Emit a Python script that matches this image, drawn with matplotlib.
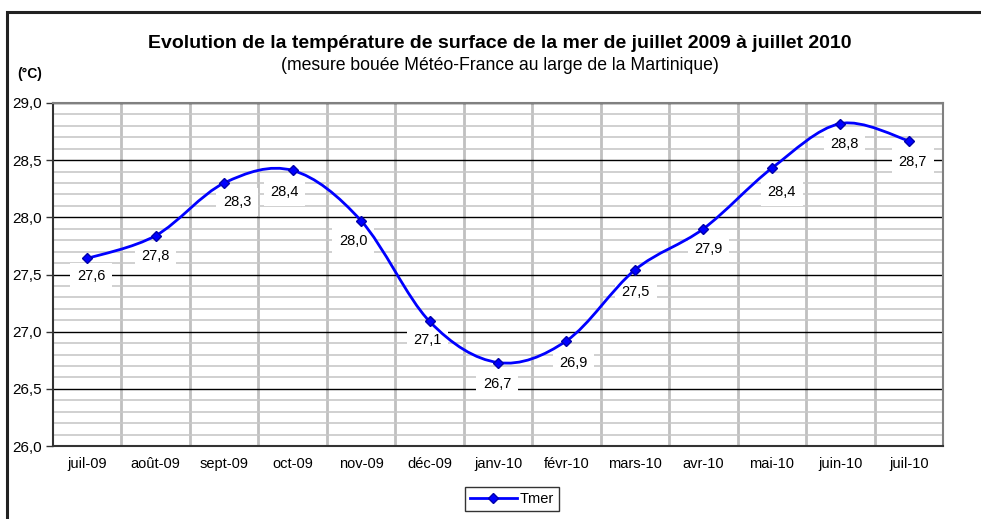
import matplotlib
matplotlib.use("Agg")
import matplotlib.pyplot as plt
from matplotlib.path import Path
from matplotlib.patches import PathPatch, Rectangle
from matplotlib.lines import Line2D
from matplotlib.ticker import MultipleLocator, FixedLocator

plt.rcParams['font.family'] = ['Liberation Sans', 'DejaVu Sans']

mois = ['juil-09', 'août-09', 'sept-09', 'oct-09', 'nov-09', 'déc-09', 'janv-10',
        'févr-10', 'mars-10', 'avr-10', 'mai-10', 'juin-10', 'juil-10']
tmer = [27.64, 27.84, 28.30, 28.41, 27.97, 27.09, 26.73,
        26.92, 27.54, 27.90, 28.43, 28.82, 28.67]
etiquettes = ['27,6', '27,8', '28,3', '28,4', '28,0', '27,1', '26,7',
              '26,9', '27,5', '27,9', '28,4', '28,8', '28,7']

# decalage des etiquettes (pixels), comme place a la main dans l'original
decal_x = [4, 0, 13, -8, -8, -2, -1, 7, 1, 5, 10, 4, 4]
decal_y = [-18, -20, -19, -22, -20, -19, -21, -22, -22, -20, -24, -20, -21]

BLEU = '#0000ff'

fig = plt.figure(figsize=(9.81, 5.19), dpi=100)
# cadre exterieur (seuls haut et gauche visibles)
fig.patches.append(Rectangle((7 / 981, -0.1), 1.2, 1 - 12 / 519 + 0.1,
                             transform=fig.transFigure, fill=False,
                             edgecolor='#222222', linewidth=2.2))

ax = fig.add_axes([53 / 981, 1 - 446 / 519, 890 / 981, 343 / 519])

x = list(range(len(mois)))
ax.set_xlim(-0.5, len(mois) - 0.5)

# grille
ax.yaxis.set_minor_locator(MultipleLocator(0.1))
yt = [26.0 + 0.5 * k for k in range(7)]
ax.set_yticks(yt)
ax.set_yticklabels([('%.1f' % v).replace('.', ',') for v in yt], fontsize=11)
ax.set_ylim(26.0, 29.0)
ax.xaxis.set_major_locator(FixedLocator(x))
ax.set_xticklabels(mois, fontsize=10.5)
ax.xaxis.set_minor_locator(FixedLocator([i + 0.5 for i in x[:-1]]))
ax.grid(which='minor', axis='y', color='#c8c8c8', linewidth=1.2, zorder=0)
ax.grid(which='major', axis='y', color='black', linewidth=1.0, zorder=0)
ax.grid(which='minor', axis='x', color='#c0c0c0', linewidth=2.0, zorder=0)
ax.tick_params(axis='x', which='both', length=0, pad=8)
ax.tick_params(axis='y', which='major', length=5, width=1, color='#333333', pad=3)
ax.tick_params(axis='y', which='minor', length=0)
ax.set_axisbelow(True)

for s in ['top', 'right']:
    ax.spines[s].set_color('#808080')
    ax.spines[s].set_linewidth(1.5)
for s in ['left', 'bottom']:
    ax.spines[s].set_color('#333333')
    ax.spines[s].set_linewidth(1.5)

# courbe lissee (Catmull-Rom -> Bezier)
pts = list(zip(x, tmer))
verts = [pts[0]]
codes = [Path.MOVETO]
n = len(pts)
for i in range(n - 1):
    p0 = pts[i - 1] if i > 0 else pts[i]
    p1 = pts[i]
    p2 = pts[i + 1]
    p3 = pts[i + 2] if i + 2 < n else pts[i + 1]
    c1 = (p1[0] + (p2[0] - p0[0]) / 6, p1[1] + (p2[1] - p0[1]) / 6)
    c2 = (p2[0] - (p3[0] - p1[0]) / 6, p2[1] - (p3[1] - p1[1]) / 6)
    verts += [c1, c2, p2]
    codes += [Path.CURVE4] * 3
ax.add_patch(PathPatch(Path(verts, codes), fill=False, edgecolor=BLEU,
                       linewidth=2.0, zorder=3))
ax.plot(x, tmer, linestyle='none', marker='D', markersize=5, color=BLEU,
        markeredgecolor='#0000aa', zorder=4)

for xi, yi, t, dx, dy in zip(x, tmer, etiquettes, decal_x, decal_y):
    ax.annotate(t, (xi, yi), xytext=(dx, dy), textcoords='offset pixels',
                ha='center', va='center', fontsize=10.5, zorder=2.5,
                bbox=dict(boxstyle='square,pad=0.45', facecolor='white',
                          edgecolor='none'))

fig.text(500 / 981, 1 - 44 / 519,
         'Evolution de la température de surface de la mer de juillet 2009 à juillet 2010',
         ha='center', va='center', fontsize=14, fontweight='bold')
fig.text(500 / 981, 1 - 66 / 519,
         '(mesure bouée Météo-France au large de la Martinique)',
         ha='center', va='center', fontsize=12.7)
fig.text(30 / 981, 1 - 74 / 519, '(°C)', ha='center', va='center',
         fontsize=10, fontweight='bold')

h = Line2D([], [], color=BLEU, linewidth=2.0, marker='D', markersize=5,
           markeredgecolor='#0000aa')
leg = fig.legend([h], ['Tmer'], loc='center', bbox_to_anchor=(512 / 981, 1 - 499 / 519),
                 fontsize=10.5, frameon=True, fancybox=False, handlelength=3.2,
                 handletextpad=0.2, borderpad=0.35)
leg.get_frame().set_edgecolor('black')
leg.get_frame().set_linewidth(1.0)

fig.savefig('out.png', dpi=100)
